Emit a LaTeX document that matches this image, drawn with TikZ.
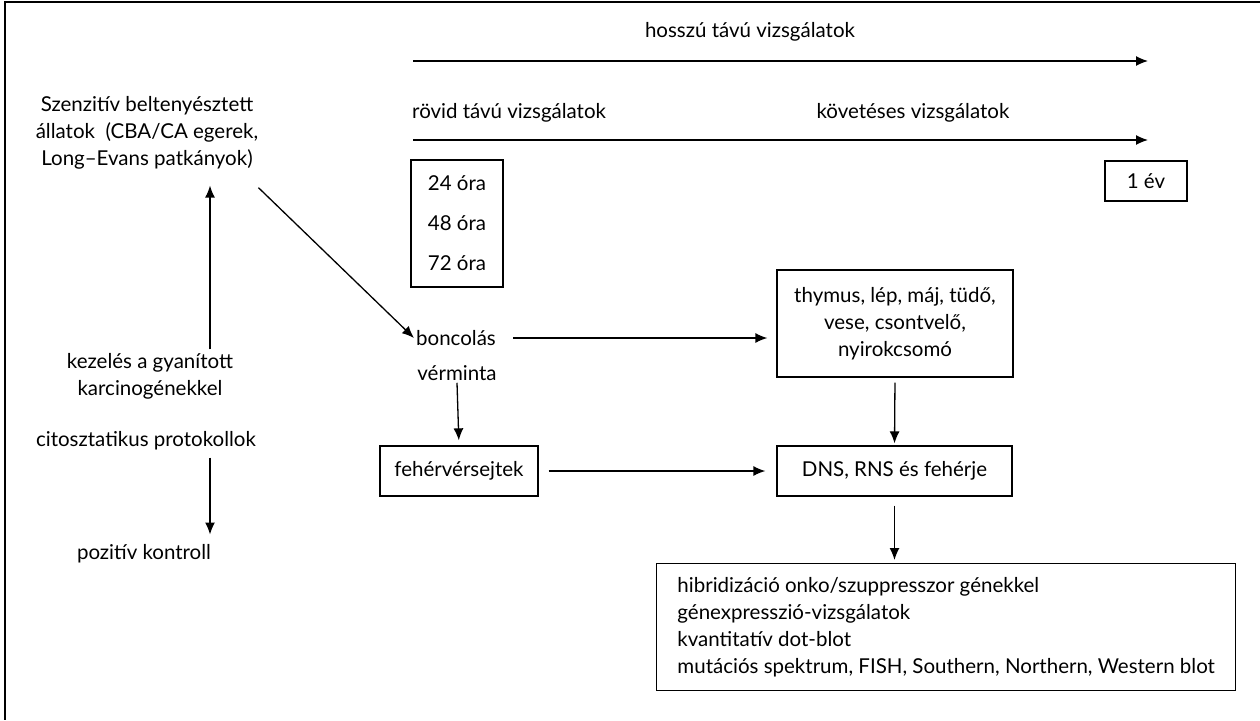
\documentclass[tikz,border=0pt]{standalone}
\usepackage{fontspec}
\setmainfont{Lato}
\usetikzlibrary{arrows.meta,positioning}
\tikzset{
  txt/.style={font=\fontsize{20.5}{27}\selectfont, inner sep=2pt, align=center},
  tbox/.style={txt, draw, line width=1.3pt},
  arr/.style={-{Latex[length=12pt,width=10pt]}, line width=1.3pt},
}

\begin{document}
\begin{tikzpicture}[x=1pt,y=-1pt]
        \useasboundingbox (0,0) rectangle (1260,720);
        \draw[line width=1.3pt] (1260,2) -- (5,2) -- (5,720);
        % time axes
        \node[txt] (hossz) at (750,32) {hosszú távú vizsgálatok};
        \coordinate (h0) at (413,61); \coordinate (h1) at (1148,61);
        \draw[arr] (h0) -- (h1);
        \node[txt, anchor=west] (rovid) at (410,113) {rövid távú vizsgálatok};
        \node[txt] (kovet) at (913,113) {követéses vizsgálatok};
        \coordinate (r0) at (413,140); \coordinate (r1) at (1148,140);
        \draw[arr] (r0) -- (r1);
        \node[tbox, minimum width=92pt, minimum height=127pt] (ora) at (457,223.5) {24 óra\\[13pt]48 óra\\[13pt]72 óra};
        \node[tbox, minimum width=82pt, minimum height=40pt] (ev) at (1146,181) {1 év};
        % left column
        \node[txt] (szenz) at (147,133) {Szenzitív beltenyésztett\\állatok~~(CBA/CA egerek,\\Long--Evans patkányok)};
        \node[txt] (kez) at (150,376.5) {kezelés a gyanított\\karcinogénekkel};
        \node[txt] (cito) at (146,441) {citosztatikus protokollok};
        \node[txt] (pozit) at (144,554) {pozitív kontroll};
        \coordinate (upx) at (210,0);
        \draw[arr, shorten <=2pt, shorten >=14pt] (kez.north -| upx) -- (szenz.south -| upx);
        \draw[arr, shorten <=5pt, shorten >=8pt] (cito.south -| upx) -- (pozit.north -| upx);
        % sampling
        \node[txt] (bonc) at (456,338) {boncolás};
        \node[txt] (verm) at (457,373) {vérminta};
        \draw[arr] ([xshift=-2pt,yshift=-16pt]szenz.south east) -- (bonc.west);
        \node[tbox, minimum width=236pt, minimum height=107pt] (thym) at (895,323.5) {thymus, lép, máj, tüdő,\\vese, csontvelő,\\nyirokcsomó};
        \node[tbox, minimum width=158pt, minimum height=50pt] (feher) at (459,471) {fehérvérsejtek};
        \node[tbox, minimum width=235pt, minimum height=50pt] (dns) at (894.5,471) {DNS, RNS és fehérje};
        \node[tbox, anchor=north west, minimum width=579pt, minimum height=127pt, inner xsep=9pt, align=left] (vizsg) at (656,563) {hibridizáció onko/szuppresszor génekkel\\génexpresszió-vizsgálatok\\kvantitatív dot-blot\\mutációs spektrum, FISH, Southern, Northern, Western blot};
        \draw[arr, shorten <=15pt, shorten >=9pt] (bonc.east) -- (bonc.east -| thym.west);
        \draw[arr, shorten >=5pt] (verm.south) -- (feher.north);
        \draw[arr, shorten <=10pt, shorten >=11pt] (feher.east) -- (dns.west);
        \draw[arr, shorten <=5pt, shorten >=2pt] (thym.south) -- (dns.north);
        \draw[arr, shorten <=9pt, shorten >=3pt] (dns.south) -- (dns.south |- vizsg.north);
    \end{tikzpicture}
\end{document}
